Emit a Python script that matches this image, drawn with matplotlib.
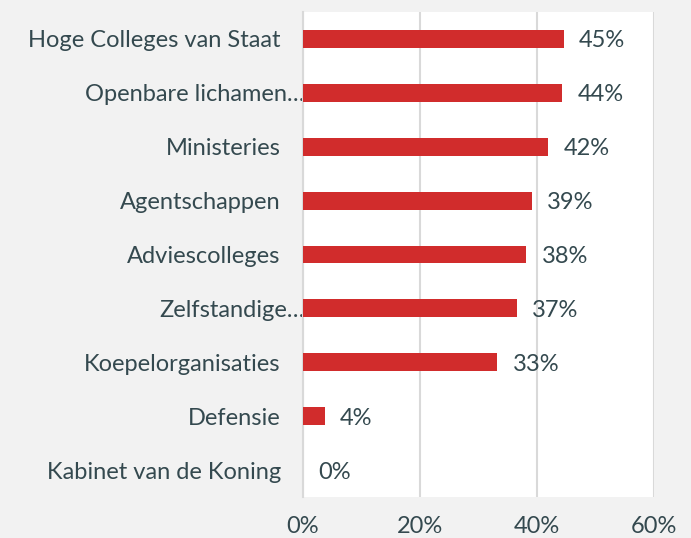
import matplotlib
matplotlib.use("Agg")
import matplotlib.pyplot as plt
from matplotlib.transforms import ScaledTranslation

categories = ["Hoge Colleges van Staat", "Openbare lichamen…", "Ministeries",
              "Agentschappen", "Adviescolleges", "Zelfstandige…",
              "Koepelorganisaties", "Defensie", "Kabinet van de Koning"]
values = [44.6, 44.3, 41.9, 39.1, 38.2, 36.6, 33.2, 3.7, 0.0]
value_labels = ["45%", "44%", "42%", "39%", "38%", "37%", "33%", "4%", "0%"]
xticks = [0, 20, 40, 60]
xtick_labels = ["0%", "20%", "40%", "60%"]

text_color = "#34494f"
bar_color = "#d12c2c"
plt.rcParams['font.family'] = ['Lato', 'DejaVu Sans']
fs = 17

fig = plt.figure(figsize=(6.91, 5.38), dpi=100, facecolor="#f2f2f2")
ax = fig.add_axes([303/691, 1-497/538, (654-303)/691, (497-12)/538])
ax.set_facecolor("white")

ypos = list(range(len(categories)))
ax.barh(ypos, values, height=0.33, color=bar_color, zorder=3)
for y, v, lab in zip(ypos, values, value_labels):
    ax.annotate(lab, (v, y), xytext=(11, 0), textcoords="offset points",
                va="center_baseline", ha="left", fontsize=fs, color=text_color)

ax.set_ylim(len(categories)-0.5, -0.5)
ax.set_xlim(0, 60)
ax.set_yticks(ypos)
ax.set_yticklabels(categories, fontsize=fs, color=text_color, va="center_baseline")
ax.set_xticks(xticks)
ax.set_xticklabels(xtick_labels, fontsize=fs, color=text_color)
ax.tick_params(axis="both", length=0)
ax.tick_params(axis="y", pad=16)
ax.tick_params(axis="x", pad=14)
for lab in ax.get_yticklabels():
    if lab.get_text().endswith("…"):
        lab.set_transform(lab.get_transform() + ScaledTranslation(17/72, 0, fig.dpi_scale_trans))
ax.grid(axis="x", color="#d9d9d9", linewidth=1.5, zorder=0)
for s in ["top", "bottom", "right"]:
    ax.spines[s].set_visible(False)
ax.spines["left"].set_color("#d9d9d9")
ax.spines["left"].set_linewidth(1.5)

fig.savefig("out.png", dpi=100, facecolor=fig.get_facecolor())
